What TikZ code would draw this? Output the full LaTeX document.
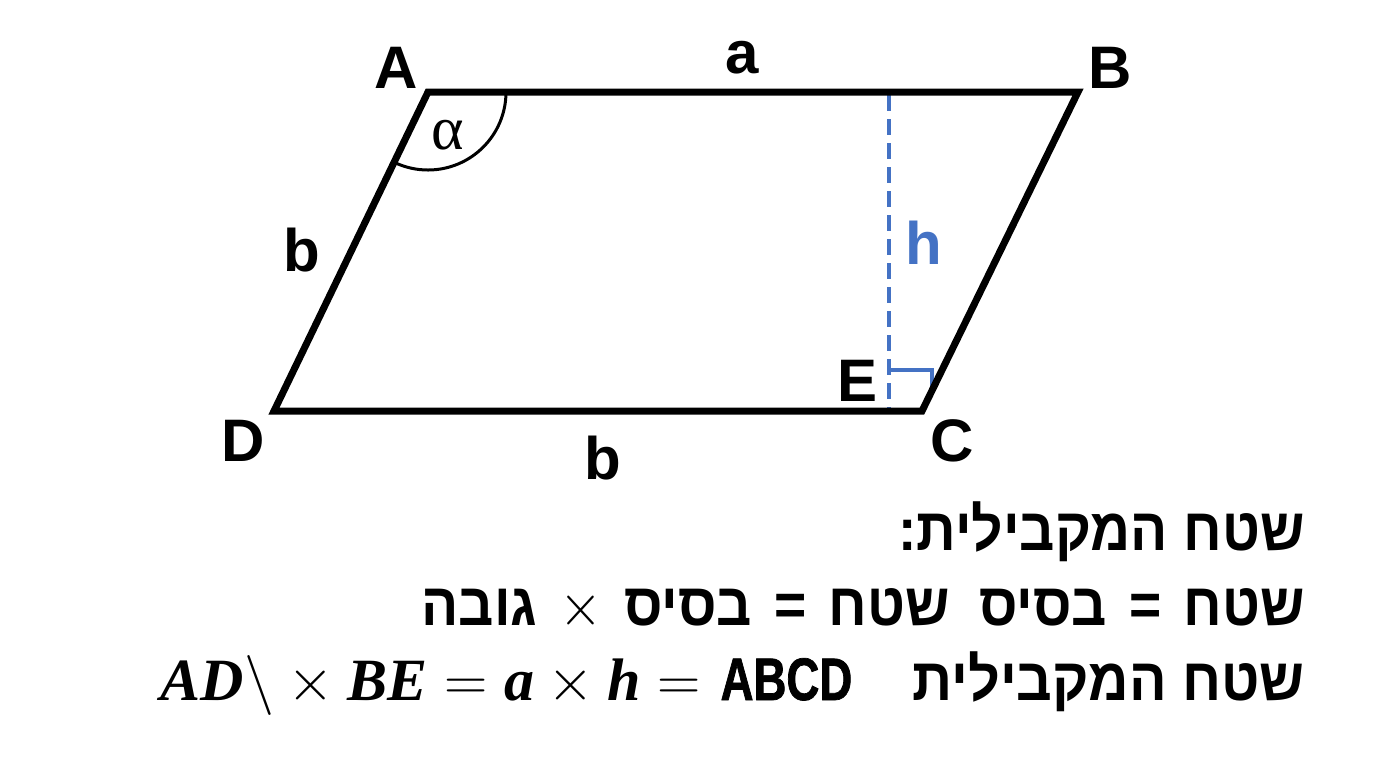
\RequirePackage{fix-cm}
\documentclass[tikz,border=0pt]{standalone}
\usepackage{amsmath}
\usepackage{graphicx}
\usepackage{fontspec}
\usetikzlibrary{calc}
\newfontfamily\labelfont{Liberation Sans}
\newfontfamily\greekfont{Liberation Serif}
\newfontfamily\narrowfont[FakeStretch=0.76,FakeBold=1.2]{Liberation Sans}
\newfontfamily\hebfont[Script=Hebrew]{Liberation Sans}
\TeXXeTstate=1
\definecolor{hblue}{RGB}{68,114,196}
\newcommand{\hgap}{\hspace{12pt}}
\newcommand{\wgap}{\hspace{16pt}}
\newcommand{\bi}[1]{\mbox{\greekfont\bfseries\itshape #1}}
\tikzset{
  vlabel/.style={font=\labelfont\bfseries\fontsize{30}{36}\selectfont, inner sep=0pt},
  side/.style={line width=3.5pt, line join=miter},
  heb/.style={font=\hebfont\bfseries\fontsize{30}{36}\selectfont, inner sep=0pt, anchor=base east},
}
\begin{document}
\begin{tikzpicture}[x=0.5pt,y=0.5pt,yscale=-1]
\useasboundingbox (0,0) rectangle (1376,768);
% corners
\coordinate (A) at (428,92);
\coordinate (B) at (1078,92);
\coordinate (C) at (922,411);
\coordinate (D) at (274,411);
\coordinate (E) at (889,411);
\coordinate (H) at (889,95);
% height BE
\draw [hblue, line width=2.4pt, dash pattern=on 8pt off 4pt] (H) -- (E);
\draw [hblue, line width=2pt] ($(E)+(0,-41)$) -- ($(E)+(43,-41)$) -- ($(E)+(43,-24)$);
% parallelogram
\draw [side] (A) -- (B) -- (C) -- (D) -- cycle;
% angle at A
\draw [line width=1.5pt] ($(A)+(78,0)$) arc [start angle=0, end angle=115.8, radius=39pt];
% Text Node
\node [vlabel] (lA) at (396,68) {A};
\node [vlabel] (lB) at (1110,68) {B};
\node [vlabel] (lC) at (952,441) {C};
\node [vlabel] (lD) at (243,441) {D};
\node [vlabel] (lE) at (857,381) {E};
\node [vlabel] (la) at (742,58) {a};
\node [vlabel] (lb1) at (302,250) {b};
\node [vlabel] (lb2) at (603,458) {b};
\node [vlabel, text=hblue] (lh) at (924,243) {h};
\node [inner sep=0pt, font=\greekfont\fontsize{31}{36}\selectfont] (alpha) at (448,135) {α};
% Text Node
\node [heb] (t1) at (1305,550) {\scalebox{0.92}[1]{\beginR שטח המקבילית:\endR}};
\node [heb] (t2) at (1305,625) {\scalebox{0.92}[1]{\beginR שטח\hgap=\hgap בסיס\wgap שטח\hgap=\hgap בסיס\hgap$\times$\hgap גובה\endR}};
\node [heb] (t3) at (1305,700) {$\bi{AD}\backslash\times\bi{BE}=\bi{a}\times\bi{h}=$\hspace{10pt}{\narrowfont\bfseries ABCD}\hspace{30pt}\scalebox{0.93}[1]{\beginR שטח המקבילית\endR}};
\end{tikzpicture}
\end{document}
